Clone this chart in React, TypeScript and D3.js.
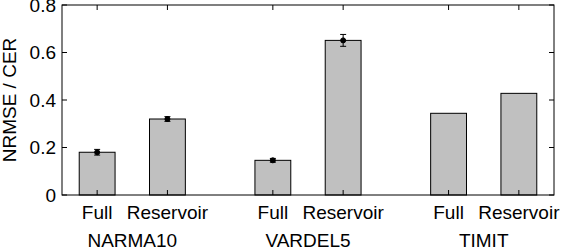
import React from "react";
import * as d3 from "d3";

const groups = ["NARMA10", "VARDEL5", "TIMIT"];
const subLabels = ["Full", "Reservoir"];
const positions = [1, 2, 3.5, 4.5, 6, 7];
const values = [0.18, 0.32, 0.146, 0.651, 0.344, 0.428];
const errors = [0.012, 0.01, 0.008, 0.025, 0, 0];
const yTicks = [0, 0.2, 0.4, 0.6, 0.8];
const yTickLabels = ["0", "0.2", "0.4", "0.6", "0.8"];

const W = 562;
const H = 252;
const M = { left: 62, right: 8, top: 5, bottom: 57 };
const FONT = "'Liberation Sans', Arial, Helvetica, sans-serif";
const FS = 19;

export default function App() {
  const x = d3.scaleLinear().domain([0.5, 7.5]).range([M.left, W - M.right]);
  const y = d3.scaleLinear().domain([0, 0.8]).range([H - M.bottom, M.top]);
  const bw = x(1.51) - x(1);
  const tick = 5;
  const x0 = x(0.5), x1 = x(7.5), y0 = y(0), y1 = y(0.8);
  const capW = 3;

  return (
    <svg
      width={W}
      height={H}
      style={{ position: "absolute", left: 0, top: 0, background: "#fff" }}
      fontFamily={FONT}
    >
      {positions.map((p, i) => (
        <rect
          key={"b" + i}
          x={x(p) - bw / 2}
          y={y(values[i])}
          width={bw}
          height={y(0) - y(values[i])}
          fill="#c0c0c0"
          stroke="#000"
          strokeWidth={1}
        />
      ))}
      {positions.map((p, i) =>
        errors[i] > 0 ? (
          <g key={"e" + i} stroke="#000" strokeWidth={1}>
            <line x1={x(p)} x2={x(p)} y1={y(values[i] - errors[i])} y2={y(values[i] + errors[i])} />
            <line x1={x(p) - capW} x2={x(p) + capW} y1={y(values[i] - errors[i])} y2={y(values[i] - errors[i])} />
            <line x1={x(p) - capW} x2={x(p) + capW} y1={y(values[i] + errors[i])} y2={y(values[i] + errors[i])} />
            <circle cx={x(p)} cy={y(values[i])} r={2.5} fill="#000" />
          </g>
        ) : null
      )}
      <rect x={x0} y={y1} width={x1 - x0} height={y0 - y1} fill="none" stroke="#000" strokeWidth={1} />
      {yTicks.map((t, i) => (
        <g key={"y" + i}>
          <line x1={x0} x2={x0 + tick} y1={y(t)} y2={y(t)} stroke="#000" />
          <line x1={x1} x2={x1 - tick} y1={y(t)} y2={y(t)} stroke="#000" />
          <text x={x0 - 6} y={y(t)} dy="0.36em" textAnchor="end" fontSize={FS}>
            {yTickLabels[i]}
          </text>
        </g>
      ))}
      {positions.map((p, i) => (
        <g key={"x" + i}>
          <line x1={x(p)} x2={x(p)} y1={y0} y2={y0 - tick} stroke="#000" />
          <line x1={x(p)} x2={x(p)} y1={y1} y2={y1 + tick} stroke="#000" />
          <text x={x(p)} y={219} textAnchor="middle" fontSize={FS}>
            {subLabels[i % 2]}
          </text>
        </g>
      ))}
      {groups.map((g, i) => (
        <text
          key={"g" + i}
          x={(x(positions[2 * i]) + x(positions[2 * i + 1])) / 2}
          y={247}
          textAnchor="middle"
          fontSize={FS}
        >
          {g}
        </text>
      ))}
      <text
        transform={`translate(${16},${(y0 + y1) / 2}) rotate(-90)`}
        textAnchor="middle"
        fontSize={FS}
      >
        NRMSE / CER
      </text>
    </svg>
  );
}
